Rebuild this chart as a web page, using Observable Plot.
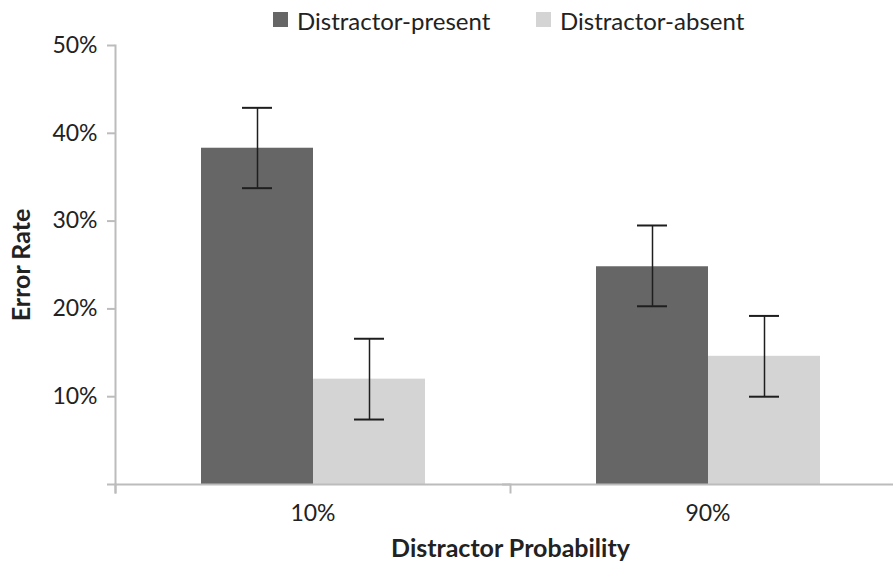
<!DOCTYPE html>
<html>
<head>
<meta charset="utf-8">
<script src="https://cdn.jsdelivr.net/npm/d3@7"></script>
<script src="https://cdn.jsdelivr.net/npm/@observablehq/plot@0.6"></script>
<style>
  html, body { margin: 0; padding: 0; background: #fff; }
  body { width: 893px; height: 562px; overflow: hidden; font-family: Lato, "Open Sans", sans-serif; }
  #legend { position: relative; height: 26px; }
  .item { position: absolute; top: 6px; display: flex; align-items: center; font-size: 24px; color: #222; line-height: 30px; }
  .sw { width: 15px; height: 15px; margin-right: 9px; margin-top: -3px; }
  g[aria-label="y-axis label"] text, g[aria-label="fx-axis label"] text { font-weight: bold; font-size: 25px; }
</style>
</head>
<body>
<div id="legend"></div>
<div id="chart"></div>
<script>
const groups = ["10%", "90%"];
const series = ["Distractor-present", "Distractor-absent"];
const colors = ["#666666", "#d4d4d4"];
const values = {
  "Distractor-present": [0.383, 0.248],
  "Distractor-absent": [0.120, 0.146]
};
const lower = {
  "Distractor-present": [0.3375, 0.203],
  "Distractor-absent": [0.074, 0.100]
};
const upper = {
  "Distractor-present": [0.429, 0.295],
  "Distractor-absent": [0.166, 0.192]
};

const rows = [];
groups.forEach((g, i) => series.forEach(s => rows.push({
  group: g, series: s, value: values[s][i], lo: lower[s][i], hi: upper[s][i]
})));

// legend
const legend = document.getElementById("legend");
const legendX = [273, 536];
series.forEach((s, i) => {
  const it = document.createElement("div");
  it.className = "item";
  it.style.left = legendX[i] + "px";
  const sw = document.createElement("span");
  sw.className = "sw";
  sw.style.background = colors[i];
  it.appendChild(sw);
  it.appendChild(document.createTextNode(s));
  legend.appendChild(it);
});

const axisGray = "#bcbcbc";
const chart = Plot.plot({
  width: 893,
  height: 536,
  marginTop: 19,
  marginBottom: 78,
  marginLeft: 115,
  marginRight: -12,
  style: { fontFamily: "Lato, 'Open Sans', sans-serif", fontSize: "23px", color: "#222", background: "transparent" },
  fx: { domain: groups, paddingInner: 0, paddingOuter: 0 },
  x: { domain: series, paddingInner: 0, paddingOuter: 0.756, axis: null },
  y: { domain: [0, 0.5] },
  color: { domain: series, range: colors },
  marks: [
    Plot.barY(rows, { fx: "group", x: "series", y: "value", fill: "series" }),
    Plot.ruleY([0], { stroke: axisGray, strokeWidth: 2, insetLeft: -8 }),
    Plot.frame({ anchor: "left", stroke: axisGray, strokeWidth: 2, insetTop: 439, insetBottom: -8 }),
    Plot.frame({ anchor: "left", stroke: axisGray, strokeWidth: 2, insetBottom: -8, fx: () => groups[0] }),
    Plot.ruleX(rows, { fx: "group", x: "series", y1: "lo", y2: "hi", stroke: "#1e1e1e", strokeWidth: 1.5 }),
    Plot.tickY(rows, { fx: "group", x: "series", y: "lo", stroke: "#1e1e1e", strokeWidth: 2, insetLeft: 41, insetRight: 41 }),
    Plot.tickY(rows, { fx: "group", x: "series", y: "hi", stroke: "#1e1e1e", strokeWidth: 2, insetLeft: 41, insetRight: 41 }),
    Plot.axisY({
      ticks: [0.1, 0.2, 0.3, 0.4, 0.5],
      tickFormat: d3.format(".0%"),
      tickSize: 8, tickPadding: 10, stroke: axisGray, strokeWidth: 2,
      label: "Error Rate", labelAnchor: "center", labelArrow: "none", labelOffset: 103
    }),
    Plot.axisFx({
      anchor: "bottom", tickSize: 0, tickPadding: 20,
      label: "Distractor Probability", labelAnchor: "center", labelArrow: "none", labelOffset: 72
    })
  ]
});
document.getElementById("chart").appendChild(chart);
</script>
</body>
</html>
